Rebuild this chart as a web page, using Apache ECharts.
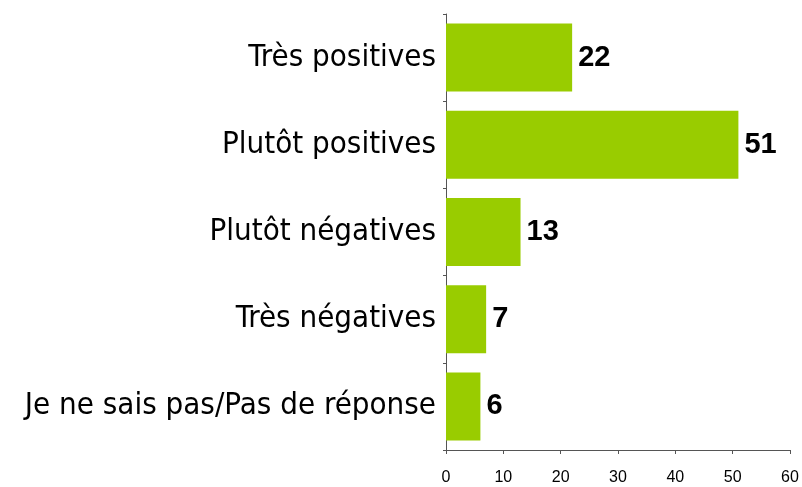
<!DOCTYPE html>
<html><head><meta charset="utf-8">
<script src="https://cdn.jsdelivr.net/npm/echarts@6/dist/echarts.min.js"></script>
<style>html,body{margin:0;padding:0;background:#fff}#c{width:802px;height:487px}</style>
</head><body><div id="c"></div>
<script>
const categories = ["Très positives","Plutôt positives","Plutôt négatives","Très négatives","Je ne sais pas/Pas de réponse"];
const values = [22,51,13,7,6];
const xTicks = {min:0,max:60,interval:10};

const chart = echarts.init(document.getElementById('c'));
chart.setOption({
  animation:false,
  grid:{left:446,right:12,top:14,bottom:37,containLabel:false},
  xAxis:{type:'value',min:xTicks.min,max:xTicks.max,interval:xTicks.interval,
    axisLine:{show:true,lineStyle:{color:'#555',width:1}},
    axisTick:{show:true,length:4,lineStyle:{color:'#555'}},
    splitLine:{show:false},
    axisLabel:{fontFamily:'Liberation Sans, Arial',fontSize:16,color:'#000',margin:20}},
  yAxis:{type:'category',data:categories,inverse:true,
    axisLine:{show:true,lineStyle:{color:'#555',width:1}},
    axisTick:{show:true,length:3,lineStyle:{color:'#555'}},
    axisLabel:{fontFamily:'DejaVu Sans Condensed, DejaVu Sans',fontSize:31,color:'#000',margin:10}},
  series:[{type:'bar',data:values,barCategoryGap:'22%',
    itemStyle:{color:'#99CC00'},
    label:{show:true,position:'right',distance:6,fontFamily:'Liberation Sans, Arial',fontWeight:'bold',fontSize:29,color:'#000'}}]
});
</script></body></html>
